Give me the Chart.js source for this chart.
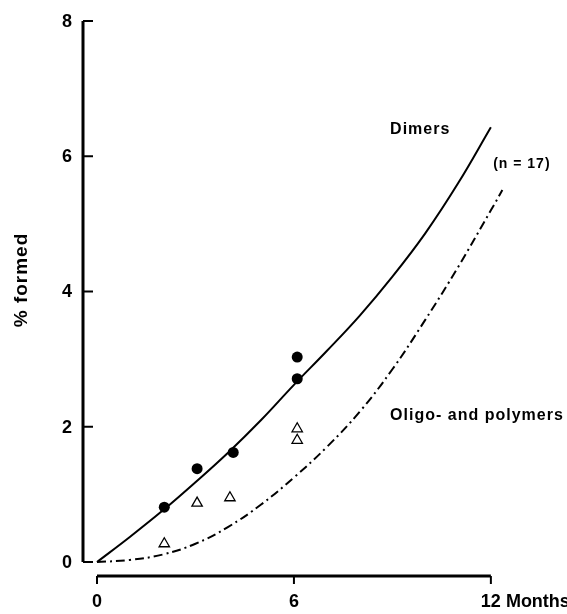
<!DOCTYPE html>
<html>
<head>
<meta charset="utf-8">
<script src="https://cdn.jsdelivr.net/npm/chart.js@4/dist/chart.umd.min.js"></script>
<style>
  html, body { margin: 0; padding: 0; background: #fff; }
  canvas { display: block; }
</style>
</head>
<body>
<canvas id="chart" width="567" height="614"></canvas>
<script>
// Dimer / oligomer formation over storage time (months)
const dimerCurveX = [0, 1, 2, 3, 4, 5, 6, 7, 8, 9, 10, 11, 12];
const dimerCurveY = [0, 0.37, 0.76, 1.18, 1.62, 2.1, 2.62, 3.12, 3.64, 4.22, 4.86, 5.6, 6.43];

const oligoCurveX = [0, 1, 2, 3, 4, 5, 6, 7, 8, 9, 10, 11, 12, 12.35];
const oligoCurveY = [0, 0.03, 0.11, 0.27, 0.52, 0.85, 1.25, 1.7, 2.22, 2.85, 3.58, 4.36, 5.2, 5.5];

const dimerPointsX = [2.05, 3.05, 4.15, 6.1, 6.1];
const dimerPointsY = [0.81, 1.38, 1.62, 3.03, 2.71];

const oligoPointsX = [2.05, 3.05, 4.05, 6.1, 6.1];
const oligoPointsY = [0.27, 0.87, 0.95, 1.97, 1.8];

const yTicks = [0, 2, 4, 6, 8];
const xTicks = [0, 6, 12];
const xTickLabels = ['0', '6', '12 Months'];

const labelTexts = ['Dimers', '(n = 17)', 'Oligo- and polymers'];
const labelX = [8.93, 12.07, 8.93];
const labelY = [6.4, 5.89, 2.16];

const FONT = '"Liberation Sans", Arial, Helvetica, sans-serif';

function toPoints(xs, ys) {
    return xs.map((x, i) => ({ x: x, y: ys[i] }));
}

// draws the detached axes, tick labels and curve labels
const axesPlugin = {
    id: 'axes',
    afterDraw(chart) {
        const ctx = chart.ctx;
        const area = chart.chartArea;
        const xs = chart.scales.x;
        const ys = chart.scales.y;
        const yAxisX = area.left - 14;
        const xAxisY = area.bottom + 14;
        ctx.save();
        ctx.strokeStyle = '#000';
        ctx.fillStyle = '#000';

        // y axis
        ctx.lineWidth = 3;
        ctx.beginPath();
        ctx.moveTo(yAxisX, ys.getPixelForValue(8));
        ctx.lineTo(yAxisX, ys.getPixelForValue(0));
        ctx.stroke();
        ctx.lineWidth = 2;
        ctx.font = 'bold 18px ' + FONT;
        ctx.textAlign = 'right';
        ctx.textBaseline = 'middle';
        yTicks.forEach(v => {
            const py = ys.getPixelForValue(v);
            ctx.beginPath();
            ctx.moveTo(yAxisX, py);
            ctx.lineTo(yAxisX + 10, py);
            ctx.stroke();
            ctx.fillText(String(v), yAxisX - 11, py + 1);
        });

        // x axis
        ctx.lineWidth = 3;
        ctx.beginPath();
        ctx.moveTo(xs.getPixelForValue(0), xAxisY);
        ctx.lineTo(xs.getPixelForValue(12), xAxisY);
        ctx.stroke();
        ctx.lineWidth = 2;
        ctx.textAlign = 'left';
        ctx.textBaseline = 'alphabetic';
        xTicks.forEach((v, i) => {
            const px = xs.getPixelForValue(v);
            ctx.beginPath();
            ctx.moveTo(px, xAxisY);
            ctx.lineTo(px, xAxisY + 8);
            ctx.stroke();
            const num = String(v);
            const w = ctx.measureText(num).width;
            ctx.fillText(xTickLabels[i], px - w / 2, 607);
        });

        // y title
        ctx.save();
        ctx.translate(22, 280);
        ctx.rotate(-Math.PI / 2);
        ctx.font = 'bold 19px ' + FONT;
        ctx.letterSpacing = '1px';
        ctx.textAlign = 'center';
        ctx.textBaseline = 'middle';
        ctx.fillText('% formed', 0, 0);
        ctx.restore();

        // curve labels
        ctx.textAlign = 'left';
        ctx.textBaseline = 'middle';
        labelTexts.forEach((t, i) => {
            ctx.font = (i === 1 ? 'bold 14px ' : 'bold 16px ') + FONT;
            ctx.letterSpacing = '1px';
            ctx.fillText(t, xs.getPixelForValue(labelX[i]), ys.getPixelForValue(labelY[i]));
        });
        ctx.restore();
    }
};

new Chart(document.getElementById('chart'), {
    type: 'scatter',
    data: {
        datasets: [
            {
                label: 'Dimers curve',
                type: 'line',
                data: toPoints(dimerCurveX, dimerCurveY),
                borderColor: '#000',
                borderWidth: 2,
                pointRadius: 0,
                tension: 0.4,
                fill: false,
                clip: false
            },
            {
                label: 'Oligo curve',
                type: 'line',
                data: toPoints(oligoCurveX, oligoCurveY),
                borderColor: '#000',
                borderWidth: 2,
                borderDash: [9, 4, 2, 4],
                pointRadius: 0,
                tension: 0.4,
                fill: false,
                clip: false
            },
            {
                label: 'Dimers',
                data: toPoints(dimerPointsX, dimerPointsY),
                pointStyle: 'circle',
                pointRadius: 5.5,
                backgroundColor: '#000',
                borderColor: '#000',
                borderWidth: 0,
                clip: false
            },
            {
                label: 'Oligo- and polymers',
                data: toPoints(oligoPointsX, oligoPointsY),
                pointStyle: 'triangle',
                pointRadius: 6,
                backgroundColor: '#fff',
                borderColor: '#000',
                borderWidth: 1.3,
                clip: false
            }
        ]
    },
    options: {
        responsive: false,
        animation: false,
        layout: { padding: { left: 97, right: 63, top: 21, bottom: 52 } },
        plugins: {
            legend: { display: false },
            tooltip: { enabled: false }
        },
        scales: {
            x: { type: 'linear', min: 0, max: 12.4, display: false },
            y: { type: 'linear', min: 0, max: 8, display: false }
        }
    },
    plugins: [axesPlugin]
});
</script>
</body>
</html>
